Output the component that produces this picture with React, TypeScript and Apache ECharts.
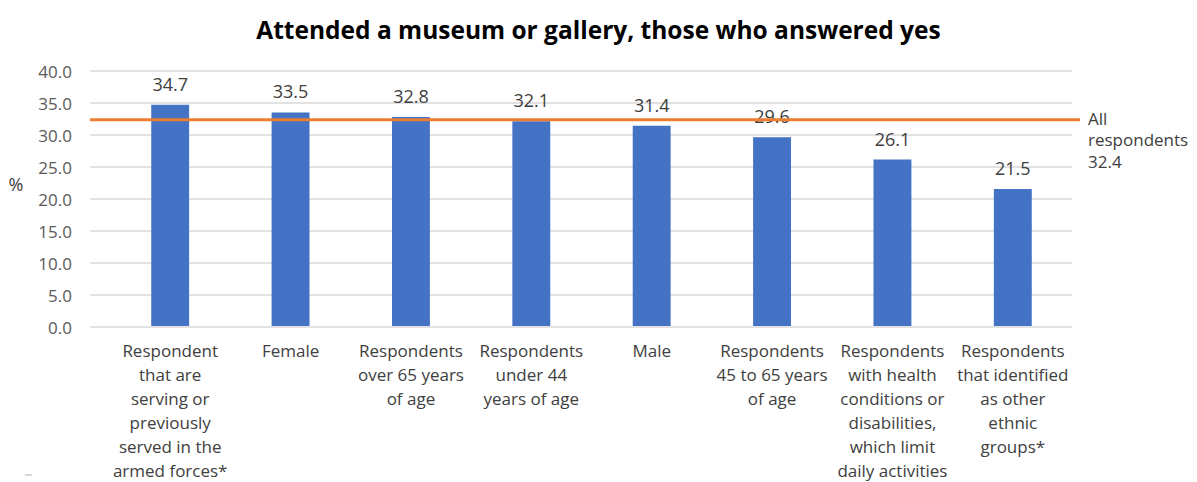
import React, { useEffect, useRef } from "react";
import * as echarts from "echarts";

const categories = [
  "Respondent\nthat are\nserving or\npreviously\nserved in the\narmed forces*",
  "Female",
  "Respondents\nover 65 years\nof age",
  "Respondents\nunder 44\nyears of age",
  "Male",
  "Respondents\n45 to 65 years\nof age",
  "Respondents\nwith health\nconditions or\ndisabilities,\nwhich limit\ndaily activities",
  "Respondents\nthat identified\nas other\nethnic\ngroups*",
];
const values = [34.7, 33.5, 32.8, 32.1, 31.4, 29.6, 26.1, 21.5];
const allRespondents = 32.4;
const title = "Attended a museum or gallery, those who answered yes";
const yAxisName = "%";

const FONT = "'Open Sans', sans-serif";
const TEXT = "#404040";

export default function App() {
  const ref = useRef<HTMLDivElement>(null);
  useEffect(() => {
    if (!ref.current) return;
    const chart = echarts.init(ref.current, undefined, { renderer: "svg" });
    const top = 71;
    const bottom = 155;
    const yAxisBase = {
      type: "value" as const,
      min: 0,
      max: 40,
      interval: 5,
    };
    chart.setOption({
      animation: false,
      textStyle: { fontFamily: FONT },
      title: {
        text: title,
        left: "center",
        top: 12,
        textStyle: { fontFamily: FONT, fontSize: 24.5, fontWeight: "bold", color: "#000" },
      },
      grid: [
        { left: 90, right: 125, top, bottom },
        { left: 110, right: 124, top, bottom },
        { left: 90, right: 117, top, bottom },
      ],
      xAxis: [
        { type: "value", gridIndex: 0, min: 0, max: 1, show: false },
        {
          type: "category",
          gridIndex: 1,
          data: categories,
          axisLine: { show: false },
          axisTick: { show: false },
          axisLabel: {
            interval: 0,
            margin: 12,
            fontSize: 17,
            lineHeight: 24,
            color: TEXT,
            fontFamily: FONT,
            align: "center",
          },
        },
        { type: "value", gridIndex: 2, min: 0, max: 1, show: false },
      ],
      yAxis: [
        {
          ...yAxisBase,
          gridIndex: 0,
          axisLine: { show: false },
          axisTick: { show: false },
          splitLine: { lineStyle: { color: "#d9d9d9", width: 1.5 } },
          axisLabel: {
            margin: 18,
            fontSize: 17,
            color: "#595959",
            fontFamily: FONT,
            formatter: (v: number) => v.toFixed(1),
          },
        },
        { ...yAxisBase, gridIndex: 1, show: false },
        { ...yAxisBase, gridIndex: 2, show: false },
      ],
      series: [
        {
          type: "bar",
          xAxisIndex: 1,
          yAxisIndex: 1,
          data: values,
          barWidth: "31.5%",
          itemStyle: { color: "#4472C4" },
          label: {
            show: true,
            position: "top",
            distance: 12,
            fontSize: 18,
            color: TEXT,
            fontFamily: FONT,
            formatter: (p: any) => Number(p.value).toFixed(1),
          },
        },
        {
          type: "line",
          xAxisIndex: 2,
          yAxisIndex: 2,
          data: [
            [0, allRespondents],
            [1, allRespondents],
          ],
          symbol: "none",
          lineStyle: { color: "#ED7D31", width: 3 },
          endLabel: {
            show: true,
            formatter: () => "All\nrespondents\n" + allRespondents.toFixed(1),
            align: "left",
            verticalAlign: "top",
            distance: 8,
            offset: [0, -12],
            fontSize: 17,
            lineHeight: 21.5,
            color: TEXT,
            fontFamily: FONT,
          },
        },
      ],
      graphic: [
        {
          type: "text",
          x: 16,
          y: 184,
          style: {
            text: yAxisName,
            fontSize: 18,
            fontFamily: FONT,
            fill: TEXT,
            align: "center",
            verticalAlign: "middle",
          },
        },
        {
          type: "rect",
          left: 25,
          top: 474,
          shape: { width: 7, height: 2 },
          style: { fill: "#d9d9d9" },
        },
      ],
    });
    return () => chart.dispose();
  }, []);
  return (
    <div
      ref={ref}
      style={{ position: "fixed", left: 0, top: 0, width: 1197, height: 482, background: "#fff" }}
    />
  );
}
